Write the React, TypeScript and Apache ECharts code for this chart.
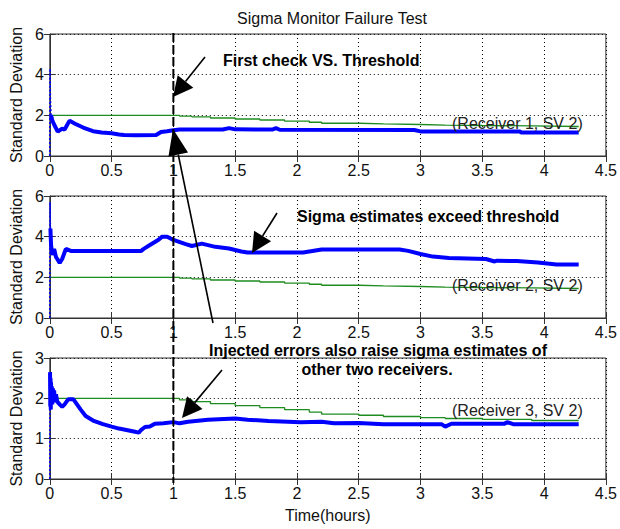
import React, { useEffect, useRef } from "react";
import * as echarts from "echarts";

// ---- data ----
const thresholdTime = [0, 1.0, 1.05, 1.15, 1.3, 1.5, 1.7, 1.9, 2.1, 2.2, 2.5, 2.7, 3.0, 3.2, 3.5, 3.9, 4.28];
const thresholdValue = [2.0, 2.0, 1.96, 1.92, 1.87, 1.82, 1.77, 1.72, 1.66, 1.61, 1.58, 1.55, 1.52, 1.5, 1.48, 1.45, 1.44];

const r1Time = [0, 0.002, 0.005, 0.01, 0.02, 0.035, 0.064, 0.1, 0.12, 0.16, 0.2, 0.27, 0.35, 0.42, 0.5, 0.56, 0.6, 0.7, 0.86, 0.9, 0.95, 1.0, 1.05, 1.4, 1.45, 1.5, 1.8, 1.83, 1.86, 2.95, 3.0, 3.8, 3.82, 4.28];
const r1Sigma = [0, 4.3, 2.8, 2.0, 1.75, 1.55, 1.2, 1.35, 1.3, 1.74, 1.6, 1.4, 1.22, 1.16, 1.12, 1.06, 1.03, 1.02, 1.03, 1.18, 1.22, 1.27, 1.3, 1.3, 1.37, 1.31, 1.3, 1.37, 1.29, 1.28, 1.21, 1.21, 1.15, 1.15];

const r2Time = [0, 0.002, 0.005, 0.01, 0.02, 0.035, 0.05, 0.08, 0.1, 0.13, 0.17, 0.74, 0.76, 0.8, 0.84, 0.88, 0.91, 0.95, 1.0, 1.1, 1.15, 1.23, 1.34, 1.45, 1.55, 1.6, 2.05, 2.2, 2.83, 2.9, 3.0, 3.1, 3.23, 3.53, 3.6, 3.62, 3.78, 3.95, 4.1, 4.28];
const r2Sigma = [0, 5.7, 4.4, 3.6, 3.1, 3.4, 3.0, 2.71, 2.9, 3.4, 3.3, 3.3, 3.4, 3.55, 3.7, 3.85, 4.0, 4.0, 3.84, 3.63, 3.54, 3.66, 3.5, 3.42, 3.27, 3.22, 3.22, 3.37, 3.37, 3.3, 3.15, 3.02, 2.95, 2.9, 2.78, 2.82, 2.8, 2.73, 2.63, 2.63];

const r3Time = [0, 0.002, 0.004, 0.006, 0.008, 0.01, 0.013, 0.016, 0.02, 0.025, 0.03, 0.035, 0.04, 0.05, 0.06, 0.08, 0.1, 0.12, 0.15, 0.19, 0.22, 0.25, 0.29, 0.35, 0.43, 0.5, 0.56, 0.63, 0.69, 0.72, 0.74, 0.77, 0.81, 0.85, 0.92, 1.0, 1.05, 1.12, 1.28, 1.5, 1.6, 1.77, 2.03, 2.2, 2.3, 2.5, 2.7, 3.17, 3.2, 3.25, 3.68, 3.7, 3.75, 4.28];
const r3Sigma = [0, 2.65, 1.8, 2.5, 1.72, 2.4, 1.9, 2.3, 1.85, 2.25, 1.9, 2.2, 1.95, 2.1, 1.92, 1.85, 1.79, 1.85, 1.98, 1.98, 1.85, 1.72, 1.56, 1.45, 1.36, 1.3, 1.25, 1.21, 1.17, 1.15, 1.22, 1.29, 1.3, 1.37, 1.38, 1.41, 1.38, 1.42, 1.47, 1.5, 1.47, 1.44, 1.41, 1.42, 1.38, 1.39, 1.36, 1.36, 1.3, 1.37, 1.37, 1.41, 1.36, 1.36];

const receiverLabels = ["(Receiver 1, SV 2)", "(Receiver 2, SV 2)", "(Receiver 3, SV 2)"];
const yMaxes = [6, 6, 3];
const yIntervals = [2, 2, 1];
const checkTime = 1.0;
// number of leading samples drawn as a thin start-up trace
const thinLead = [4, 3, 2];

const FONT = "Liberation Sans, Arial, Helvetica, sans-serif";

function zip(t: number[], v: number[]) {
  return t.map((x, i) => [x, v[i]]);
}

function arrow(x1: number, y1: number, x2: number, y2: number, len: number, hw: number) {
  const dx = x2 - x1;
  const dy = y2 - y1;
  const d = Math.sqrt(dx * dx + dy * dy);
  const ux = dx / d;
  const uy = dy / d;
  const bx = x2 - ux * len;
  const by = y2 - uy * len;
  const px = -uy;
  const py = ux;
  return [
    {
      type: "line",
      shape: { x1, y1, x2: bx, y2: by },
      style: { stroke: "#000", lineWidth: 1.6 },
      z: 100,
    },
    {
      type: "polygon",
      shape: {
        points: [
          [x2, y2],
          [bx + px * hw, by + py * hw],
          [bx - px * hw, by - py * hw],
        ],
      },
      style: { fill: "#000" },
      z: 100,
    },
  ];
}

export default function App() {
  const ref = useRef<HTMLDivElement>(null);

  useEffect(() => {
    document.body.style.margin = "0";
    if (!ref.current) return;
    const chart = echarts.init(ref.current, null, { renderer: "svg" });

    const grids = [
      { left: 47, top: 34, width: 560, height: 122 },
      { left: 47, top: 196, width: 560, height: 122 },
      { left: 47, top: 358, width: 560, height: 121 },
    ].map((g) => ({ ...g, show: true, borderColor: "#333", borderWidth: 1, backgroundColor: "#fff" }));

    const xAxes: any[] = [];
    const yAxes: any[] = [];
    for (let i = 0; i < 3; i++) {
      xAxes.push({
        type: "value",
        gridIndex: i,
        position: "bottom",
        min: 0,
        max: 4.5,
        interval: 0.5,
        axisLine: { show: true, onZero: false, lineStyle: { color: "#333", width: 1 } },
        axisTick: { show: true, inside: true, length: 6, lineStyle: { color: "#333" } },
        axisLabel: { color: "#111", fontSize: 16, fontFamily: FONT, margin: 6 },
        splitLine: { show: true, lineStyle: { color: "#000", type: [1, 3], width: 1 } },
        name: i === 2 ? "Time(hours)" : "",
        nameLocation: "middle",
        nameGap: 28,
        nameTextStyle: { color: "#111", fontSize: 16, fontFamily: FONT },
      });
      xAxes.push({
        type: "value",
        gridIndex: i,
        position: "top",
        min: 0,
        max: 4.5,
        interval: 0.5,
        axisLine: { show: false },
        axisTick: { show: true, inside: true, length: 6, lineStyle: { color: "#333" } },
        axisLabel: { show: false },
        splitLine: { show: false },
      });
      yAxes.push({
        type: "value",
        gridIndex: i,
        position: "left",
        min: 0,
        max: yMaxes[i],
        interval: yIntervals[i],
        axisLine: { show: true, onZero: false, lineStyle: { color: "#333", width: 1 } },
        axisTick: { show: true, inside: true, length: 6, lineStyle: { color: "#333" } },
        axisLabel: { color: "#111", fontSize: 16, fontFamily: FONT, margin: 6 },
        splitLine: { show: true, lineStyle: { color: "#000", type: [1, 3], width: 1 } },
        name: "Standard Deviation",
        nameLocation: "middle",
        nameGap: 19,
        nameRotate: 90,
        nameTextStyle: { color: "#111", fontSize: 16, fontFamily: FONT },
      });
      yAxes.push({
        type: "value",
        gridIndex: i,
        position: "right",
        min: 0,
        max: yMaxes[i],
        interval: yIntervals[i],
        axisLine: { show: false },
        axisTick: { show: true, inside: true, length: 6, lineStyle: { color: "#333" } },
        axisLabel: { show: false },
        splitLine: { show: false },
      });
    }

    const sigmaSets = [zip(r1Time, r1Sigma), zip(r2Time, r2Sigma), zip(r3Time, r3Sigma)];
    const threshold = zip(thresholdTime, thresholdValue);
    const series: any[] = [];
    for (let i = 0; i < 3; i++) {
      series.push({
        type: "line",
        xAxisIndex: i * 2,
        yAxisIndex: i * 2,
        data: threshold,
        step: "end",
        showSymbol: false,
        lineStyle: { color: "#1e8c1e", width: 1.3 },
        z: 3,
      });
      const n = thinLead[i];
      series.push({
        type: "line",
        xAxisIndex: i * 2,
        yAxisIndex: i * 2,
        data: sigmaSets[i].slice(0, n),
        showSymbol: false,
        lineStyle: { color: "#0000ff", width: 1.5, type: [2, 2] },
        z: 4,
      });
      series.push({
        type: "line",
        xAxisIndex: i * 2,
        yAxisIndex: i * 2,
        data: sigmaSets[i].slice(n - 1),
        showSymbol: false,
        lineStyle: { color: "#0000ff", width: 4 },
        z: 4,
      });
    }

    chart.setOption({
      animation: false,
      backgroundColor: "#fff",
      title: {
        text: "Sigma Monitor Failure Test",
        left: 327,
        top: 5,
        textAlign: "center",
        textStyle: { color: "#111", fontSize: 16, fontWeight: "normal", fontFamily: FONT },
      },
      grid: grids,
      xAxis: xAxes,
      yAxis: yAxes,
      series,
    });

    const topPt = chart.convertToPixel({ gridIndex: 0 }, [checkTime, yMaxes[0]]) as number[];
    const botPt = chart.convertToPixel({ gridIndex: 2 }, [checkTime, 0]) as number[];

    const boldText = (text: string, x: number, y: number, align: string) => ({
      type: "text",
      x,
      y,
      z: 100,
      style: {
        text,
        fill: "#000",
        font: `bold 16px ${FONT}`,
        textAlign: align,
        textVerticalAlign: "middle",
      },
    });
    const labelText = (text: string, x: number, y: number) => ({
      type: "text",
      x,
      y,
      z: 100,
      style: {
        text,
        fill: "#222",
        font: `16px ${FONT}`,
        textAlign: "left",
        textVerticalAlign: "middle",
      },
    });

    const graphics: any[] = [
      {
        type: "line",
        shape: { x1: topPt[0], y1: topPt[1] - 1, x2: botPt[0], y2: botPt[1] + 4 },
        style: { stroke: "#000", lineWidth: 2, lineDash: [9, 3] },
        z: 90,
      },
      ...arrow(205, 57, 173, 97, 20, 10),
      ...arrow(213, 323, 173, 129, 26, 10),
      ...arrow(277, 213, 252, 253, 20, 10),
      ...arrow(222, 370, 182, 418, 20, 10),
      boldText("First check VS. Threshold", 223, 60, "left"),
      boldText("Sigma estimates exceed threshold", 297, 216, "left"),
      boldText("Injected errors also raise sigma estimates of", 378, 350, "center"),
      boldText("other two receivers.", 377, 369, "center"),
      labelText(receiverLabels[0], 452, 123),
      labelText(receiverLabels[1], 452, 285),
      labelText(receiverLabels[2], 452, 410),
    ];
    chart.setOption({ graphic: graphics });

    return () => chart.dispose();
  }, []);

  return <div ref={ref} style={{ width: 620, height: 529 }} />;
}
